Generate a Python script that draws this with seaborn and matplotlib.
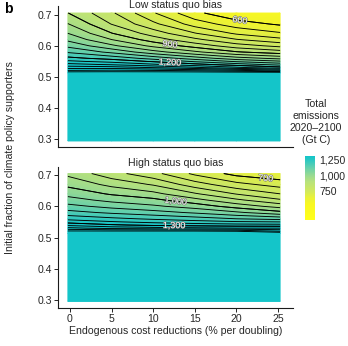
import numpy as np
import matplotlib
matplotlib.use("Agg")
import matplotlib.pyplot as plt
import seaborn as sns
from matplotlib.colors import LinearSegmentedColormap, Normalize
from matplotlib.cm import ScalarMappable
from matplotlib import patheffects as pe
from matplotlib.ticker import FuncFormatter

# Scenario sweep: endogenous cost reductions (% per doubling) x initial supporter fraction
cost_reduction = [0, 5, 10, 15, 20, 25]
supporters = [0.30, 0.514, 0.52, 0.53, 0.54, 0.55, 0.56, 0.58, 0.60, 0.62, 0.64, 0.67, 0.70]

# Total emissions 2020-2100 (Gt C); one row per supporter fraction, one column per cost reduction
low_bias = [
    [1530, 1530, 1530, 1530, 1530, 1530],
    [1530, 1530, 1530, 1530, 1530, 1530],
    [1460, 1467, 1463, 1450, 1425, 1383],
    [1379, 1375, 1350, 1312, 1262, 1220],
    [1317, 1294, 1258, 1217, 1175, 1133],
    [1261, 1233, 1194, 1143, 1093, 1057],
    [1214, 1182, 1131, 1075, 1021, 986],
    [1144, 1088, 1020, 960, 905, 873],
    [1087, 1011, 937, 879, 823, 786],
    [1038, 950, 876, 812, 753, 714],
    [1000, 902, 827, 753, 692, 656],
    [952, 848, 762, 678, 623, 592],
    [901, 808, 705, 612, 560, 560],
]
high_bias = [
    [1540, 1540, 1540, 1540, 1540, 1540],
    [1540, 1540, 1540, 1540, 1540, 1540],
    [1510, 1510, 1510, 1510, 1500, 1450],
    [1412, 1383, 1370, 1360, 1350, 1350],
    [1337, 1307, 1289, 1279, 1271, 1267],
    [1280, 1255, 1236, 1220, 1206, 1200],
    [1235, 1212, 1192, 1173, 1150, 1133],
    [1168, 1141, 1120, 1093, 1059, 1017],
    [1115, 1084, 1059, 1028, 979, 931],
    [1071, 1035, 1013, 967, 910, 857],
    [1033, 994, 965, 906, 847, 800],
    [987, 936, 895, 824, 766, 729],
    [937, 869, 816, 739, 683, 662],
]

panel_titles = ["Low status quo bias", "High status quo bias"]
contour_levels = list(range(600, 1501, 50))
labelled_levels = [[600, 900, 1200], [700, 1000, 1300]]
label_spots = [[(20.4, 0.677), (12.0, 0.603), (12.0, 0.546)],
               [(23.5, 0.688), (12.7, 0.618), (12.5, 0.538)]]
y_ticks = [0.3, 0.4, 0.5, 0.6, 0.7]
x_ticks = [0, 5, 10, 15, 20, 25]
colorbar_ticks = [750, 1000, 1250]
colour_range = (300, 1300)

# emissions value -> fill colour
colour_stops = [(300, "#FFFF1A"), (550, "#F8F722"), (650, "#EAF238"),
                (750, "#D2E95C"), (900, "#B8E27C"), (1000, "#98DA92"),
                (1100, "#6ED2A8"), (1200, "#3ECABC"), (1250, "#26C7C3"),
                (1300, "#14C5C9")]

sns.set_style("ticks")
plt.rcParams["font.family"] = ["Liberation Sans", "DejaVu Sans"]
text_col = "#262626"
fs = 7.6

lo, hi = colour_range
cmap = LinearSegmentedColormap.from_list(
    "emis", [((v - lo) / (hi - lo), c) for v, c in colour_stops])
norm = Normalize(lo, hi, clip=True)

fig = plt.figure(figsize=(3.48, 3.46), dpi=100)
W, H = 348, 346
ax_top = fig.add_axes([58 / W, 1 - 147.5 / H, 235 / W, 141 / H])
ax_bot = fig.add_axes([58 / W, 1 - 308 / H, 235 / W, 141 / H])

# Cell centres widened by half a cell so the field covers the full tiles
xs = np.array(cost_reduction, float)
xs[0] -= 0.25
xs[-1] += 0.25
ys = np.array(supporters, float)
ys[0] -= 0.005
ys[-1] += 0.005
X, Y = np.meshgrid(xs, ys)

fmt = lambda v: f"{v:,.0f}"

for ax, data, lev, spots in zip(
        [ax_top, ax_bot], [low_bias, high_bias], labelled_levels, label_spots):
    Z = np.array(data, float)
    ax.pcolormesh(X, Y, Z, shading="gouraud", cmap=cmap, norm=norm, rasterized=True)
    ax.contour(X, Y, Z, levels=contour_levels, colors="black", linewidths=0.65)
    # labelled isolines, drawn on top of the same lines
    cs_lab = ax.contour(X, Y, Z, levels=lev, colors="black", linewidths=0.65)
    labels = ax.clabel(cs_lab, inline=False, manual=spots, fmt=fmt,
                       fontsize=6.5, colors="white")
    for t in labels:
        t.set_path_effects([pe.withStroke(linewidth=0.7, foreground="#666666")])
    ax.set_xlim(-1.44, 26.8)
    ax.set_ylim(0.274, 0.726)
    ax.set_yticks(y_ticks)
    ax.set_yticklabels([f"{v:.1f}" for v in y_ticks])
    for s in ["top", "right"]:
        ax.spines[s].set_visible(False)
    for s in ["left", "bottom"]:
        ax.spines[s].set_linewidth(0.8)
        ax.spines[s].set_color("#1a1a1a")
    ax.tick_params(axis="both", labelsize=fs, length=3, width=0.7,
                   colors=text_col, pad=1.5)

# panel titles, placed by their baselines
fig.text(175.5 / W, 1 - 8.3 / H, panel_titles[0], ha="center", va="baseline",
         fontsize=fs, color=text_col)
fig.text(175.5 / W, 1 - 166.5 / H, panel_titles[1], ha="center", va="baseline",
         fontsize=fs, color=text_col)

ax_top.set_xticks([])
ax_bot.set_xticks(x_ticks)
ax_bot.set_xlabel("Endogenous cost reductions (% per doubling)", fontsize=fs,
                  color=text_col, labelpad=1.5)

fig.text(10 / W, 1 - 157.5 / H, "Initial fraction of climate policy supporters",
         rotation=90, ha="center", va="center", fontsize=fs, color=text_col)
fig.text(8 / W, 1 - 9 / H, "b", ha="center", va="center", fontsize=10,
         fontweight="bold", color="black")

# Colour legend
cax = fig.add_axes([305 / W, 1 - 220 / H, 10 / W, 64 / H])
cb = fig.colorbar(ScalarMappable(norm=norm, cmap=cmap), cax=cax, ticks=colorbar_ticks)
cb.outline.set_visible(False)
cb.ax.yaxis.set_major_formatter(FuncFormatter(lambda v, p: fmt(v)))
cb.ax.tick_params(direction="in", color="white", length=2.5, width=0.8,
                  left=True, right=True, labelsize=fs, labelcolor=text_col, pad=3)
fig.text(316 / W, 1 - 122 / H, "Total\nemissions\n2020\u20132100\n(Gt C)",
         ha="center", va="center", fontsize=fs, linespacing=1.25, color=text_col)

fig.savefig("out.png", dpi=100)
